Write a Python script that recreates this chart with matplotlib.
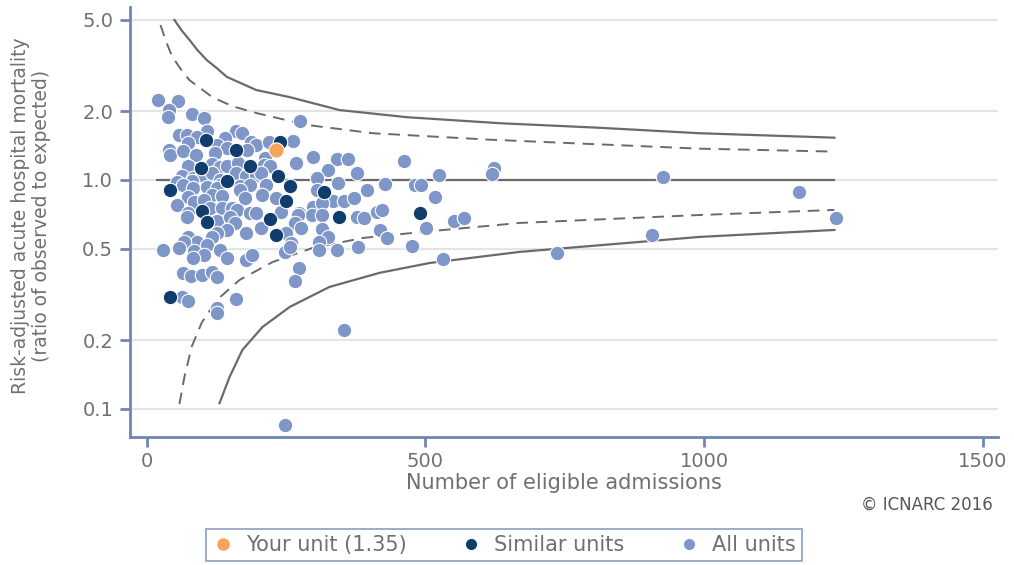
import matplotlib
matplotlib.use("Agg")
import matplotlib.pyplot as plt
from matplotlib.lines import Line2D
from matplotlib.ticker import NullLocator, FixedLocator, FixedFormatter

# --- data ---
# all units (light blue)
all_n = [20, 56, 41, 38, 81, 104, 276, 59, 72, 109, 161, 172, 91, 140, 75, 188, 197, 219, 262, 127,
         144, 181, 41, 43, 65, 88, 122, 298, 341, 361, 212, 461, 269, 74, 117, 131, 145, 165, 210, 222,
         325, 377, 63, 83, 100, 118, 131, 161, 179, 197, 206, 54, 81, 65, 83, 108, 131, 167, 185, 215,
         127, 305, 343, 305, 395, 427, 481, 493, 524, 623, 619, 926, 167, 208, 117, 136, 74, 86, 104, 54,
         176, 233, 334, 355, 373, 517, 298, 314, 274, 296, 314, 377, 391, 413, 423, 74, 113, 135, 154, 163,
         185, 197, 242, 271, 72, 126, 149, 158, 266, 551, 570, 502, 1171, 1236, 206, 278, 314, 145, 251, 127,
         179, 117, 74, 91, 68, 108, 325, 310, 260, 418, 431, 906, 29, 59, 86, 104, 131, 144, 179, 190,
         248, 257, 310, 341, 379, 477, 83, 531, 736, 274, 266, 65, 79, 99, 117, 126, 63, 74, 160, 127,
         127, 355, 249]
all_v = [2.24, 2.21, 2.02, 1.88, 1.94, 1.87, 1.81, 1.57, 1.57, 1.64, 1.64, 1.60, 1.54, 1.53, 1.45, 1.47, 1.42, 1.47, 1.48, 1.42,
         1.38, 1.35, 1.35, 1.29, 1.34, 1.29, 1.31, 1.26, 1.24, 1.24, 1.25, 1.21, 1.19, 1.15, 1.18, 1.14, 1.15, 1.19, 1.16, 1.15,
         1.10, 1.07, 1.04, 1.02, 1.05, 1.07, 1.00, 1.07, 1.04, 1.05, 1.07, 0.98, 0.99, 0.95, 0.92, 0.93, 0.95, 0.94, 0.95, 0.95,
         0.92, 1.02, 0.97, 0.90, 0.90, 0.96, 0.95, 0.95, 1.05, 1.13, 1.06, 1.03, 0.90, 0.86, 0.86, 0.85, 0.84, 0.80, 0.82, 0.78,
         0.83, 0.835, 0.81, 0.81, 0.835, 0.84, 0.76, 0.79, 0.72, 0.70, 0.70, 0.69, 0.68, 0.725, 0.74, 0.72, 0.755, 0.755, 0.755, 0.74,
         0.72, 0.72, 0.725, 0.70, 0.69, 0.66, 0.69, 0.65, 0.65, 0.66, 0.68, 0.62, 0.886, 0.68, 0.62, 0.62, 0.61, 0.605, 0.587, 0.587,
         0.587, 0.564, 0.564, 0.536, 0.536, 0.52, 0.564, 0.536, 0.531, 0.605, 0.558, 0.575, 0.495, 0.505, 0.49, 0.471, 0.495, 0.457, 0.448, 0.471,
         0.485, 0.51, 0.495, 0.495, 0.51, 0.515, 0.457, 0.452, 0.48, 0.413, 0.362, 0.393, 0.381, 0.385, 0.397, 0.377, 0.308, 0.296, 0.302, 0.276,
         0.263, 0.221, 0.085]

# similar units (navy)
sim_n = [239, 106, 161, 185, 97, 145, 235, 257, 43, 319, 251, 100, 109, 222, 233, 346, 490, 43]
sim_v = [1.465, 1.50, 1.35, 1.15, 1.13, 0.99, 1.04, 0.94, 0.90, 0.886, 0.81, 0.73, 0.656, 0.676, 0.575, 0.689, 0.718, 0.308]

# your unit
unit_n = [233]
unit_v = [1.35]

# control limits (99.8% solid, 95% dashed)
up998_n = [50, 63, 77, 91, 108, 126, 144, 197, 257, 346, 467, 633, 813, 992, 1234]
up998_v = [5.0, 4.5, 4.09, 3.70, 3.34, 3.08, 2.82, 2.47, 2.30, 2.02, 1.88, 1.77, 1.69, 1.60, 1.53]
up95_n = [25, 36, 45, 54, 65, 77, 118, 154, 197, 287, 406, 615, 992, 1234]
up95_v = [4.75, 3.97, 3.51, 3.24, 2.96, 2.73, 2.30, 2.10, 1.96, 1.74, 1.60, 1.50, 1.37, 1.33]
lo95_n = [59, 68, 81, 99, 126, 167, 226, 298, 388, 495, 669, 992, 1234]
lo95_v = [0.105, 0.138, 0.187, 0.238, 0.299, 0.366, 0.438, 0.505, 0.558, 0.593, 0.649, 0.703, 0.740]
lo998_n = [131, 149, 172, 208, 257, 328, 418, 508, 669, 992, 1234]
lo998_v = [0.106, 0.138, 0.181, 0.228, 0.279, 0.341, 0.393, 0.434, 0.485, 0.564, 0.605]
mid_n = [18, 1234]
mid_v = [1.0, 1.0]

yticks = [0.1, 0.2, 0.5, 1.0, 2.0, 5.0]
ytick_labels = ["0.1", "0.2", "0.5", "1.0", "2.0", "5.0"]
xticks = [0, 500, 1000, 1500]

# colours
SPINE = "#6f86b2"
TXT = "#707070"
LIGHT = "#7f97c8"
NAVY = "#113d6c"
ORANGE = "#f5a55a"
LINE = "#6a6a6a"

plt.rcParams["font.family"] = ["DejaVu Sans"]

fig = plt.figure(figsize=(10.14, 5.65), dpi=100)
ax = fig.add_axes([0.128, 0.2265, 0.856, 0.761])
ax.set_yscale("log")
ax.set_xlim(-30, 1527)
ax.set_ylim(0.0754, 5.69)

ax.yaxis.set_major_locator(FixedLocator(yticks))
ax.yaxis.set_major_formatter(FixedFormatter(ytick_labels))
ax.yaxis.set_minor_locator(NullLocator())
ax.set_xticks(xticks)

ax.grid(axis="y", color="#e4e4e4", lw=1.5, zorder=0)
ax.set_axisbelow(True)

for s in ["top", "right"]:
    ax.spines[s].set_visible(False)
for s in ["left", "bottom"]:
    ax.spines[s].set_color(SPINE)
    ax.spines[s].set_linewidth(2)

ax.tick_params(axis="both", colors=SPINE, labelcolor=TXT, length=7, width=2, labelsize=14)
ax.tick_params(axis="y", pad=5)
ax.tick_params(axis="x", pad=4)

# funnel
ax.plot(mid_n, mid_v, color=LINE, lw=1.6, zorder=2)
ax.plot(up998_n, up998_v, color=LINE, lw=1.6, zorder=2)
ax.plot(lo998_n, lo998_v, color=LINE, lw=1.6, zorder=2)
ax.plot(up95_n, up95_v, color=LINE, lw=1.4, ls=(0, (6, 4)), zorder=2)
ax.plot(lo95_n, lo95_v, color=LINE, lw=1.4, ls=(0, (6, 4)), zorder=2)

# points
ax.scatter(all_n, all_v, s=108, color=LIGHT, edgecolors="white", linewidths=0.8, zorder=3)
ax.scatter(sim_n, sim_v, s=108, color=NAVY, edgecolors="white", linewidths=0.8, zorder=4)
ax.scatter(unit_n, unit_v, s=120, color=ORANGE, edgecolors="white", linewidths=0.8, zorder=5)

ax.set_xlabel("Number of eligible admissions", fontsize=15, color=TXT, labelpad=1)
fig.text(31 / 1014, 1 - 216 / 565,
         "Risk-adjusted acute hospital mortality\n(ratio of observed to expected)",
         rotation=90, ha="center", va="center", fontsize=13.5, color=TXT,
         multialignment="center", linespacing=1.1)

fig.text(0.979, 1 - 505 / 565, "\u00a9 ICNARC 2016", ha="right", va="center",
         fontsize=12, color="#555555")

handles = [
    Line2D([], [], ls="none", marker="o", markersize=8, color=ORANGE, label="Your unit (1.35)"),
    Line2D([], [], ls="none", marker="o", markersize=7, color=NAVY, label="Similar units"),
    Line2D([], [], ls="none", marker="o", markersize=7, color=LIGHT, label="All units"),
]
leg = ax.legend(handles=handles, loc="center", bbox_to_anchor=(0.497, 0.035),
                bbox_transform=fig.transFigure, ncol=3, frameon=True, fancybox=False,
                edgecolor=SPINE, fontsize=15, handletextpad=0.6, columnspacing=2.6,
                borderpad=0.3, borderaxespad=0, handlelength=1.0, labelcolor=TXT)
leg.get_frame().set_linewidth(1.2)

fig.savefig("out.png", dpi=100)
